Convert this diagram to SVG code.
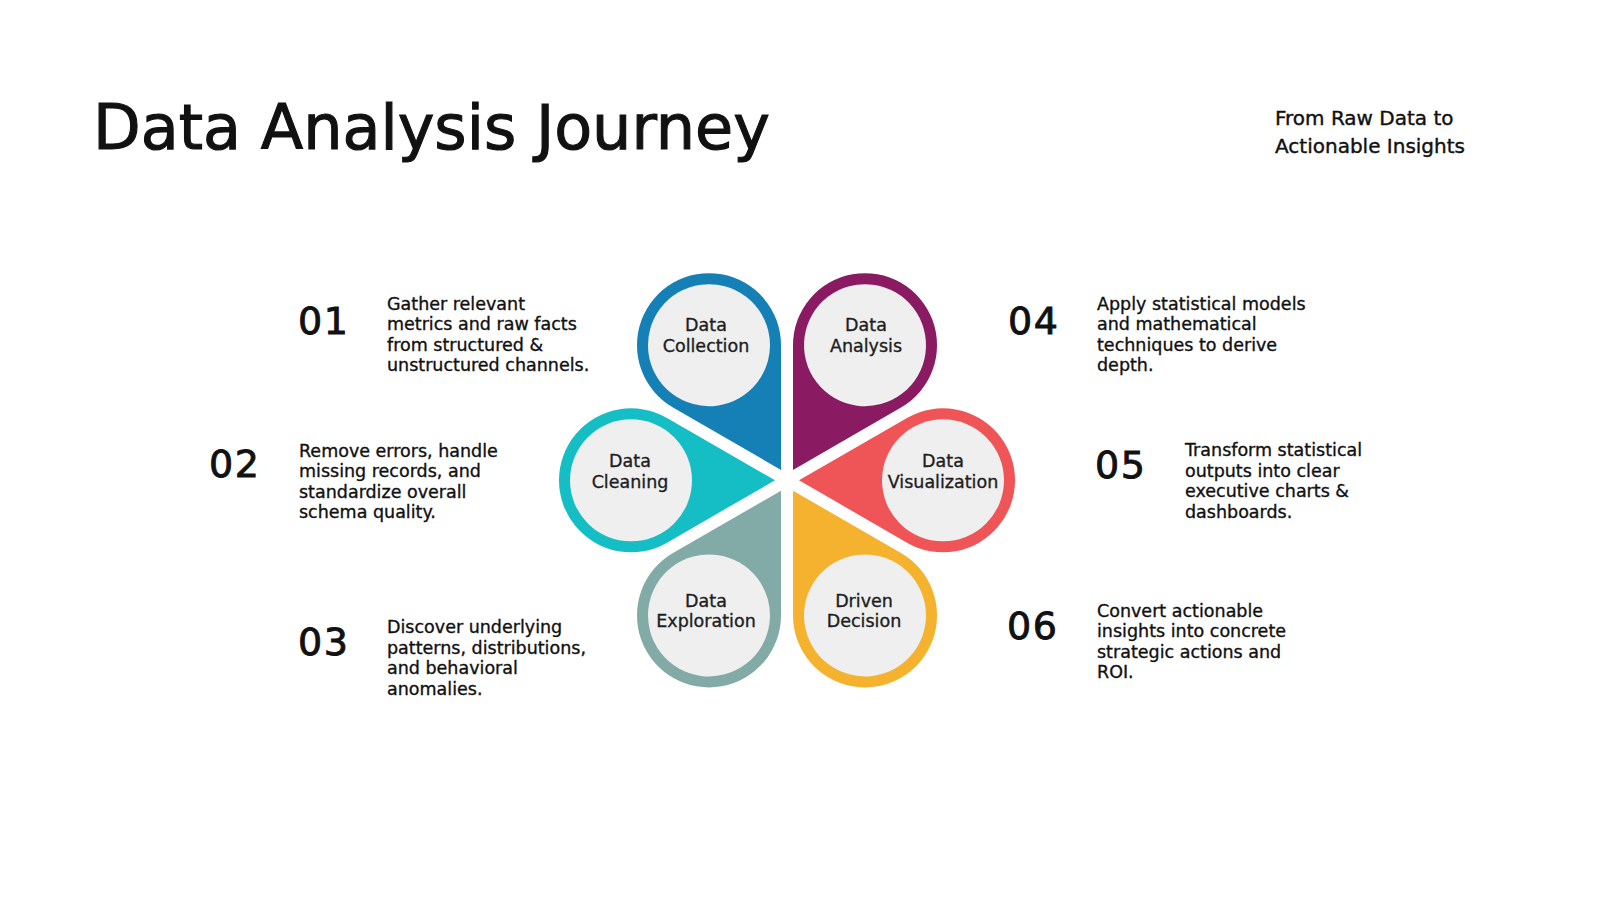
<svg xmlns="http://www.w3.org/2000/svg" width="1600" height="900" viewBox="0 0 1600 900">
<style>
text{font-family:"DejaVu Sans","Liberation Sans",sans-serif;fill:#111;stroke:#111;stroke-width:0.35px}
.title{font-size:62px;stroke-width:1.1px}
.sub{font-size:20px;stroke-width:0.4px}
.num{font-size:38px;letter-spacing:1.5px;stroke-width:0.9px}
.desc{font-size:17.5px}
.lbl{font-size:17.5px;text-anchor:middle;fill:#1e1e1e;stroke:#1e1e1e}
.inner{fill:#efefef}
</style>
<defs>
<path id="petal" d="M0,-12 L62.35,-120 A72,72 0 1 0 -62.35,-120 Z"/>
</defs>
<rect width="1600" height="900" fill="#ffffff"/>
<g id="header">
<text class="title" x="93" y="149">Data Analysis Journey</text>
<text class="sub" x="1275" y="125">From Raw Data to</text>
<text class="sub" x="1275" y="153">Actionable Insights</text>
</g>
<g id="node-collection">
<g transform="translate(787,480.3) rotate(-30)"><use href="#petal" fill="#1580b6"/><circle class="inner" cx="0" cy="-156" r="61"/></g>
<text class="lbl" x="706" y="331">Data</text><text class="lbl" x="706" y="352">Collection</text>
</g>
<g id="node-analysis">
<g transform="translate(787,480.3) rotate(30)"><use href="#petal" fill="#8a1b63"/><circle class="inner" cx="0" cy="-156" r="61"/></g>
<text class="lbl" x="866" y="331">Data</text><text class="lbl" x="866" y="352">Analysis</text>
</g>
<g id="node-visualization">
<g transform="translate(787,480.3) rotate(90)"><use href="#petal" fill="#ef5456"/><circle class="inner" cx="0" cy="-156" r="61"/></g>
<text class="lbl" x="943" y="467">Data</text><text class="lbl" x="943" y="488">Visualization</text>
</g>
<g id="node-decision">
<g transform="translate(787,480.3) rotate(150)"><use href="#petal" fill="#f5b22e"/><circle class="inner" cx="0" cy="-156" r="61"/></g>
<text class="lbl" x="864" y="607">Driven</text><text class="lbl" x="864" y="627">Decision</text>
</g>
<g id="node-exploration">
<g transform="translate(787,480.3) rotate(210)"><use href="#petal" fill="#82aaa6"/><circle class="inner" cx="0" cy="-156" r="61"/></g>
<text class="lbl" x="706" y="607">Data</text><text class="lbl" x="706" y="627">Exploration</text>
</g>
<g id="node-cleaning">
<g transform="translate(787,480.3) rotate(270)"><use href="#petal" fill="#15bec4"/><circle class="inner" cx="0" cy="-156" r="61"/></g>
<text class="lbl" x="630" y="467">Data</text><text class="lbl" x="630" y="488">Cleaning</text>
</g>
<g id="step-01">
<text class="num" x="298" y="333.5">01</text>
<text class="desc" x="387" y="309.5">Gather relevant</text>
<text class="desc" x="387" y="330">metrics and raw facts</text>
<text class="desc" x="387" y="350.5">from structured &amp;</text>
<text class="desc" x="387" y="371">unstructured channels.</text>
</g>
<g id="step-02">
<text class="num" x="209" y="477">02</text>
<text class="desc" x="299" y="456.5">Remove errors, handle</text>
<text class="desc" x="299" y="477">missing records, and</text>
<text class="desc" x="299" y="497.5">standardize overall</text>
<text class="desc" x="299" y="518">schema quality.</text>
</g>
<g id="step-03">
<text class="num" x="298" y="655">03</text>
<text class="desc" x="387" y="633">Discover underlying</text>
<text class="desc" x="387" y="653.5">patterns, distributions,</text>
<text class="desc" x="387" y="674">and behavioral</text>
<text class="desc" x="387" y="694.5">anomalies.</text>
</g>
<g id="step-04">
<text class="num" x="1008" y="333.5">04</text>
<text class="desc" x="1097" y="309.5">Apply statistical models</text>
<text class="desc" x="1097" y="330">and mathematical</text>
<text class="desc" x="1097" y="350.5">techniques to derive</text>
<text class="desc" x="1097" y="371">depth.</text>
</g>
<g id="step-05">
<text class="num" x="1095" y="477.5">05</text>
<text class="desc" x="1185" y="456">Transform statistical</text>
<text class="desc" x="1185" y="476.5">outputs into clear</text>
<text class="desc" x="1185" y="497">executive charts &amp;</text>
<text class="desc" x="1185" y="517.5">dashboards.</text>
</g>
<g id="step-06">
<text class="num" x="1007" y="639">06</text>
<text class="desc" x="1097" y="616.5">Convert actionable</text>
<text class="desc" x="1097" y="637">insights into concrete</text>
<text class="desc" x="1097" y="657.5">strategic actions and</text>
<text class="desc" x="1097" y="678">ROI.</text>
</g>
</svg>
